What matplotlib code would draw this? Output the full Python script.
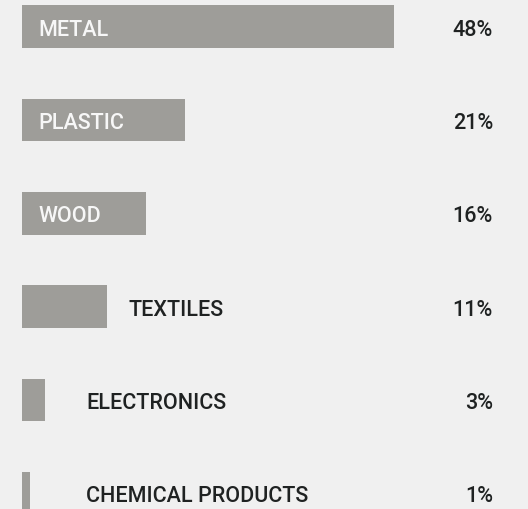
import matplotlib
matplotlib.use("Agg")
import matplotlib.pyplot as plt
from matplotlib import font_manager as fm

# Share of waste by material (percent)
categories = ["METAL", "PLASTIC", "WOOD", "TEXTILES", "ELECTRONICS", "CHEMICAL PRODUCTS"]
shares = [48, 21, 16, 11, 3, 1]
value_labels = ["48%", "21%", "16%", "11%", "3%", "1%"]

BG = "#f0f0f0"
BAR = "#9e9d99"
DARK = "#1f2222"
LIGHT = "#f7f7f7"

# Prefer the static Roboto Medium face for all labels
medium = [f.fname for f in fm.fontManager.ttflist if f.fname.endswith("Roboto-Medium.ttf")]
fs = 15.5
if medium:
    fp = fm.FontProperties(fname=medium[0], size=fs)
else:
    fp = fm.FontProperties(family=["Roboto", "DejaVu Sans"], weight="medium", size=fs)

W, H, DPI = 528, 510, 100
fig = plt.figure(figsize=(W / DPI, H / DPI), dpi=DPI, facecolor=BG)

px_per_unit = 7.75
left_px = 22
ax = fig.add_axes([left_px / W, 0, (W - left_px) / W, 1])
ax.set_facecolor(BG)
ax.set_xlim(0, (W - left_px) / px_per_unit)

row_px = 93.4
top_px = 27.5
ax.set_ylim((H - top_px) / row_px, -top_px / row_px)

pos = list(range(len(categories)))
ax.barh(pos, shares, height=42.5 / row_px, color=BAR, left=0)

pct_x = (493 - left_px) / px_per_unit
for i, (cat, v, lab) in enumerate(zip(categories, shares, value_labels)):
    if v >= 15:
        ax.annotate(cat, (0, i), xytext=(12.0, 0), textcoords="offset points",
                    ha="left", va="center_baseline", color=LIGHT, fontproperties=fp)
    else:
        x = max(v, 5.5) + 2.8
        ax.text(x, i, cat, ha="left", va="center_baseline", color=DARK, fontproperties=fp)
    ax.text(pct_x, i, lab, ha="right", va="center_baseline", color=DARK, fontproperties=fp)

ax.axis("off")
fig.savefig("out.png", dpi=DPI, facecolor=BG)
